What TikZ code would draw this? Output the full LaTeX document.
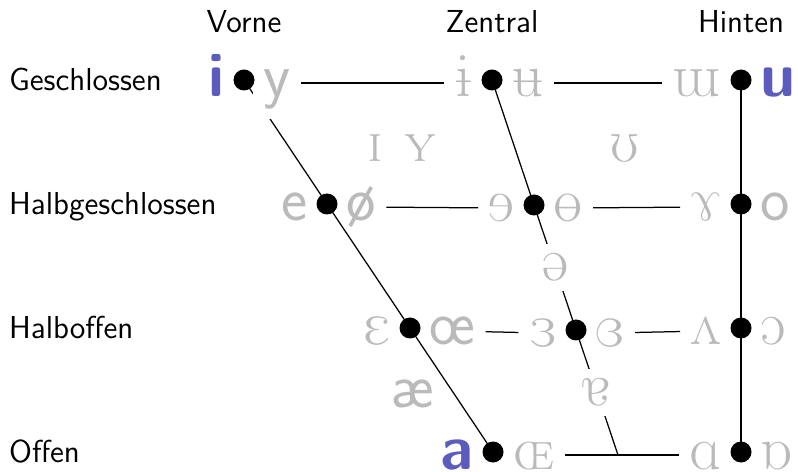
\documentclass[tikz,border=0pt]{standalone}
\usepackage{tipa}
\usetikzlibrary{positioning,calc}
\definecolor{vblue}{RGB}{92,92,191}
\definecolor{vgray}{RGB}{186,186,186}
\tikzset{
  vowel/.style={inner sep=4pt, text height=16.2pt, text depth=5pt, text=vgray,
    font=\fontsize{25}{30}\selectfont, yshift=-1.2pt},
  vsans/.style={vowel, font=\fontsize{25}{30}\selectfont\sffamily},
  vmain/.style={vowel, text=vblue, font=\fontsize{25}{30}\selectfont\sffamily\bfseries},
  vlax/.style={inner sep=4pt, text=vgray, font=\fontsize{25}{30}\selectfont},
  vmid/.style={vlax, fill=white},
  rowlabel/.style={anchor=base west, inner sep=0pt, yshift=-4.2pt,
    font=\fontsize{12.7}{15}\selectfont\sffamily},
  collabel/.style={inner sep=4pt, font=\fontsize{12.7}{15}\selectfont\sffamily},
}
\begin{document}
\begin{tikzpicture}[x=0.4pt, y=-0.4pt, line width=0.5pt]
\useasboundingbox (0,0) rectangle (798,472);
% Corners of the trapezium
\coordinate (f1) at (244,80); \coordinate (f4) at (493,452);
\coordinate (f2) at ($(f1)!1/3!(f4)$); \coordinate (f3) at ($(f1)!2/3!(f4)$);
\coordinate (c1) at (492,80); \coordinate (c4) at (618,455);
\coordinate (c2) at ($(c1)!1/3!(c4)$); \coordinate (c3) at ($(c1)!2/3!(c4)$);
\coordinate (b1) at (741,80); \coordinate (b2) at (b1 |- f2);
\coordinate (b3) at (b1 |- f3); \coordinate (b4) at (b1 |- f4);
% Front, central and back lines
\draw (f1) -- (f4);
\draw (c1) -- (c4);
\draw (b1) -- (b4);
% Column and row labels
\node[collabel, above=14.5pt of f1] (lfront) {Vorne};
\node[collabel, above=14.5pt of c1] (lcentral) {Zentral};
\node[collabel, above=14.5pt of b1] (lback) {Hinten};
\coordinate (lx) at (8.5,0);
\node[rowlabel] (lclose) at (lx |- f1) {Geschlossen};
\node[rowlabel] (lclosemid) at (lx |- f2) {Halbgeschlossen};
\node[rowlabel] (lopenmid) at (lx |- f3) {Halboffen};
\node[rowlabel] (lopen) at (lx |- f4) {Offen};
% Close vowels
\node[vmain, left=3.5pt of f1] (vi) {i};
\node[vsans, right=3.5pt of f1, fill=white] (vy) {y};
\node[vowel, left=3.5pt of c1] (vbari) {\textipa{1}};
\node[vowel, right=3.5pt of c1] (vbaru) {\textipa{0}};
\node[vowel, left=3.5pt of b1] (vturnm) {\textipa{W}};
\node[vmain, right=3.5pt of b1] (vu) {u};
% Close-mid vowels
\node[vsans, left=3.5pt of f2] (ve) {e};
\node[vsans, right=3.5pt of f2] (voslash) {ø};
\node[vowel, left=3.5pt of c2] (vreve) {\textipa{9}};
\node[vowel, right=3.5pt of c2] (vbaro) {\textipa{8}};
\node[vowel, left=3.5pt of b2] (vramshorns) {\textipa{7}};
\node[vsans, right=3.5pt of b2] (vo) {o};
% Open-mid vowels
\node[vowel, left=3.5pt of f3] (vepsilon) {\textipa{E}};
\node[vsans, right=3.5pt of f3] (voe) {œ};
\node[vowel, left=3.5pt of c3] (vrevepsilon) {\textipa{3}};
\node[vowel, right=3.5pt of c3] (vcloserevepsilon) {\textcloserevepsilon};
\node[vowel, left=3.5pt of b3] (vturnv) {\textipa{2}};
\node[vowel, right=3.5pt of b3] (vopeno) {\textipa{O}};
% Open vowels
\node[vmain, left=3.5pt of f4] (va) {a};
\node[vowel, right=3.5pt of f4] (vscoelig) {\textscoelig};
\node[vowel, left=3.5pt of b4] (vscripta) {\textipa{A}};
\node[vowel, right=3.5pt of b4] (vturnscripta) {\textipa{6}};
% Horizontal lines
\draw (vy) -- (vbari); \draw (vbaru) -- (vturnm);
\draw (voslash) -- (vreve); \draw (vbaro) -- (vramshorns);
\draw (voe) -- (vrevepsilon); \draw (vcloserevepsilon) -- (vturnv);
\draw (vscoelig) -- (vscripta);
% Vowels in between
\node[vlax] (vsci) at (375,148) {\textipa{I}};
\node[vlax] (vscy) at (420,148) {\textipa{Y}};
\node[vlax] (vupsilon) at (625,148) {\textipa{U}};
\node[vlax, font=\fontsize{25}{30}\selectfont\sffamily] (vae) at (413,394) {æ};
\node[vmid] (vschwa) at ($(c2)!.5!(c3)$) {\textipa{@}};
\node[vmid] (vturna) at ($(c3)!.5!(c4)$) {\textipa{5}};
% Dots
\foreach \p in {f1,f2,f3,f4,c1,c2,c3,b1,b2,b3,b4}
  \fill (\p) circle (4.2pt);
\end{tikzpicture}
\end{document}
